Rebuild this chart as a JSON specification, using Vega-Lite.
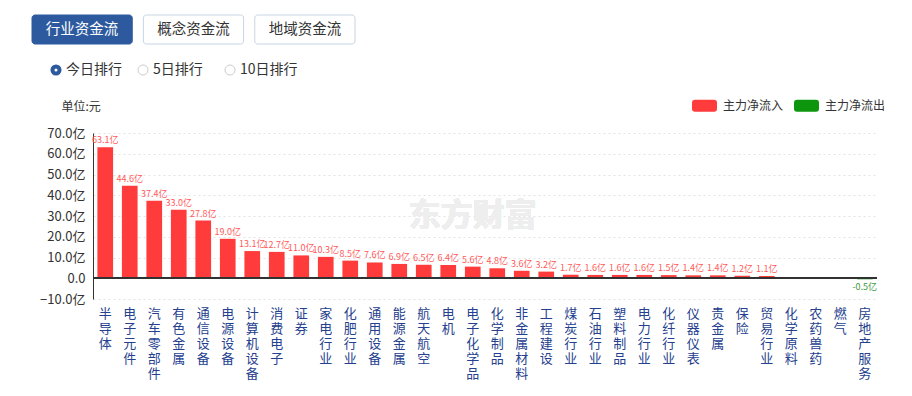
{
  "$schema": "https://vega.github.io/schema/vega-lite/v6.json",
  "background": "white",
  "padding": {"left": 31, "top": 14, "right": 10, "bottom": 4},
  "config": {"font": "Noto Sans CJK SC", "view": {"stroke": null}, "axisY": {"labelOverlap": false, "labelSeparation": 0}},
  "datasets": {
    "tabs": [
      {"tab": "行业资金流", "selected": "yes"},
      {"tab": "概念资金流", "selected": "no"},
      {"tab": "地域资金流", "selected": "no"}
    ],
    "radios": [
      {"opt": "今日排行", "selected": "yes"},
      {"opt": "5日排行", "selected": "no"},
      {"opt": "10日排行", "selected": "no"}
    ],
    "flows": [
      {"industry": "半导体", "value": 63.1, "label": "63.1亿", "dir": "主力净流入"},
      {"industry": "电子元件", "value": 44.6, "label": "44.6亿", "dir": "主力净流入"},
      {"industry": "汽车零部件", "value": 37.4, "label": "37.4亿", "dir": "主力净流入"},
      {"industry": "有色金属", "value": 33.0, "label": "33.0亿", "dir": "主力净流入"},
      {"industry": "通信设备", "value": 27.8, "label": "27.8亿", "dir": "主力净流入"},
      {"industry": "电源设备", "value": 19.0, "label": "19.0亿", "dir": "主力净流入"},
      {"industry": "计算机设备", "value": 13.1, "label": "13.1亿", "dir": "主力净流入"},
      {"industry": "消费电子", "value": 12.7, "label": "12.7亿", "dir": "主力净流入"},
      {"industry": "证券", "value": 11.0, "label": "11.0亿", "dir": "主力净流入"},
      {"industry": "家电行业", "value": 10.3, "label": "10.3亿", "dir": "主力净流入"},
      {"industry": "化肥行业", "value": 8.5, "label": "8.5亿", "dir": "主力净流入"},
      {"industry": "通用设备", "value": 7.6, "label": "7.6亿", "dir": "主力净流入"},
      {"industry": "能源金属", "value": 6.9, "label": "6.9亿", "dir": "主力净流入"},
      {"industry": "航天航空", "value": 6.5, "label": "6.5亿", "dir": "主力净流入"},
      {"industry": "电机", "value": 6.4, "label": "6.4亿", "dir": "主力净流入"},
      {"industry": "电子化学品", "value": 5.6, "label": "5.6亿", "dir": "主力净流入"},
      {"industry": "化学制品", "value": 4.8, "label": "4.8亿", "dir": "主力净流入"},
      {"industry": "非金属材料", "value": 3.6, "label": "3.6亿", "dir": "主力净流入"},
      {"industry": "工程建设", "value": 3.2, "label": "3.2亿", "dir": "主力净流入"},
      {"industry": "煤炭行业", "value": 1.7, "label": "1.7亿", "dir": "主力净流入"},
      {"industry": "石油行业", "value": 1.6, "label": "1.6亿", "dir": "主力净流入"},
      {"industry": "塑料制品", "value": 1.6, "label": "1.6亿", "dir": "主力净流入"},
      {"industry": "电力行业", "value": 1.6, "label": "1.6亿", "dir": "主力净流入"},
      {"industry": "化纤行业", "value": 1.5, "label": "1.5亿", "dir": "主力净流入"},
      {"industry": "仪器仪表", "value": 1.4, "label": "1.4亿", "dir": "主力净流入"},
      {"industry": "贵金属", "value": 1.4, "label": "1.4亿", "dir": "主力净流入"},
      {"industry": "保险", "value": 1.2, "label": "1.2亿", "dir": "主力净流入"},
      {"industry": "贸易行业", "value": 1.1, "label": "1.1亿", "dir": "主力净流入"},
      {"industry": "化学原料", "value": 0.6, "label": "", "dir": "主力净流入"},
      {"industry": "农药兽药", "value": 0.1, "label": "", "dir": "主力净流入"},
      {"industry": "燃气", "value": 0.05, "label": "", "dir": "主力净流入"},
      {"industry": "房地产服务", "value": -0.5, "label": "-0.5亿", "dir": "主力净流出"}
    ]
  },
  "resolve": {"scale": {"color": "independent", "fill": "independent", "stroke": "independent"}, "legend": {"color": "independent"}},
  "columns": 1,
  "spacing": 11,
  "concat": [
    {
      "columns": 1,
      "spacing": 13,
      "resolve": {"scale": {"color": "independent", "fill": "independent", "stroke": "independent"}},
      "concat": [
        {
          "width": 262,
          "height": 29,
          "data": {"name": "tabs"},
          "encoding": {
            "x": {"field": "tab", "type": "nominal", "sort": null, "scale": {"paddingInner": 0.1, "paddingOuter": 0, "range": [-61, 262]}, "axis": null}
          },
          "layer": [
            {
              "mark": {"type": "bar", "cornerRadius": 3, "strokeWidth": 1},
              "encoding": {
                "fill": {"field": "selected", "type": "nominal", "scale": {"domain": ["yes", "no"], "range": ["#2d5a9e", "#ffffff"]}, "legend": null},
                "stroke": {"field": "selected", "type": "nominal", "scale": {"domain": ["yes", "no"], "range": ["#2d5a9e", "#c9d5e3"]}, "legend": null}
              }
            },
            {
              "mark": {"type": "text", "fontSize": 14.5},
              "encoding": {
                "text": {"field": "tab"},
                "color": {"field": "selected", "type": "nominal", "scale": {"domain": ["yes", "no"], "range": ["#ffffff", "#333333"]}, "legend": null}
              }
            }
          ]
        },
        {
          "width": 200,
          "height": 20,
          "data": {"name": "radios"},
          "encoding": {
            "x": {"field": "opt", "type": "nominal", "sort": null, "scale": {"type": "point", "padding": 0, "domain": ["今日排行", "5日排行", "10日排行"], "range": [-37, 137]}, "axis": null}
          },
          "layer": [
            {
              "mark": {"type": "point", "shape": "circle", "fill": "white", "opacity": 1, "fillOpacity": 1},
              "encoding": {
                "size": {"condition": {"test": "datum.selected == 'yes'", "value": 50}, "value": 100},
                "stroke": {"condition": {"test": "datum.selected == 'yes'", "value": "#2d5a9e"}, "value": "#cccccc"},
                "strokeWidth": {"condition": {"test": "datum.selected == 'yes'", "value": 4}, "value": 1}
              }
            },
            {
              "mark": {"type": "text", "align": "left", "dx": 10, "fontSize": 14, "color": "#333333"},
              "encoding": {"text": {"field": "opt"}}
            }
          ]
        }
      ]
    },
    {
      "width": 784,
      "height": 166,
      "data": {"name": "flows"},
      "encoding": {
        "x": {
          "field": "industry", "type": "nominal", "sort": null,
          "scale": {"paddingInner": 0.36, "paddingOuter": 0.18},
          "axis": {
            "title": null, "domain": false, "ticks": false, "labelAngle": 0, "labelAlign": "center",
            "labelBaseline": "top", "labelPadding": 8, "labelFontSize": 13, "labelColor": "#24408e",
            "labelLineHeight": 15, "labelExpr": "split(datum.label, '')", "labelOverlap": false,
            "labelBound": false, "labelFlush": false, "labelLimit": 0
          }
        },
        "y": {
          "field": "value", "type": "quantitative",
          "scale": {"domain": [-10, 70], "nice": false},
          "axis": {
            "title": "单位:元", "titleAngle": 0, "titleAlign": "left", "titleBaseline": "middle",
            "titleX": -32, "titleY": -27, "titleFontSize": 12, "titleFontWeight": "normal", "titleColor": "#333333",
            "values": [-10, 0, 10, 20, 30, 40, 50, 60, 70],
            "labelExpr": "datum.value == 0 ? '0.0' : format(datum.value, '.1f') + '亿'",
            "labelFontSize": 13, "labelColor": "#333333", "labelPadding": 8, "ticks": false, "labelOverlap": false,
            "domain": true, "domainColor": "#333333", "grid": true, "gridDash": [2, 3], "gridColor": "#e3e3e3",
            "minExtent": 61, "maxExtent": 80
          }
        }
      },
      "layer": [
        {
          "mark": {"type": "bar"},
          "encoding": {
            "color": {
              "field": "dir", "type": "nominal",
              "scale": {"domain": ["主力净流入", "主力净流出"], "range": ["#ff3b3b", "#0d960d"]},
              "legend": {
                "title": null, "orient": "none", "legendX": 599, "legendY": -40, "direction": "horizontal",
                "symbolType": "M-0.76,-0.48H0.76Q1,-0.48 1,-0.24V0.24Q1,0.48 0.76,0.48H-0.76Q-1,0.48 -1,0.24V-0.24Q-1,-0.48 -0.76,-0.48Z",
                "symbolSize": 625, "symbolOpacity": 1, "symbolStrokeWidth": 0,
                "labelFontSize": 12, "labelColor": "#333333", "labelOffset": 6, "columnPadding": 10
              }
            }
          }
        },
        {
          "mark": {"type": "text", "fontSize": 32, "fontWeight": "bold", "color": "#eeeeee"},
          "encoding": {
            "x": {"datum": "电子化学品", "type": "nominal"},
            "y": {"datum": 30, "type": "quantitative"},
            "text": {"value": "东方财富"}
          }
        },
        {
          "mark": {"type": "rule", "color": "#333333", "strokeWidth": 1},
          "encoding": {"x": null, "y": {"datum": 0, "type": "quantitative"}}
        },
        {
          "mark": {"type": "text", "baseline": "bottom", "dy": -2, "fontSize": 9, "color": "#ff5a5a"},
          "encoding": {
            "text": {"condition": {"test": "datum.value > 0", "field": "label"}, "value": ""}
          }
        },
        {
          "mark": {"type": "text", "baseline": "top", "dy": 4, "fontSize": 9, "color": "#3c9a3c"},
          "encoding": {
            "text": {"condition": {"test": "datum.value < 0", "field": "label"}, "value": ""}
          }
        }
      ]
    }
  ]
}
